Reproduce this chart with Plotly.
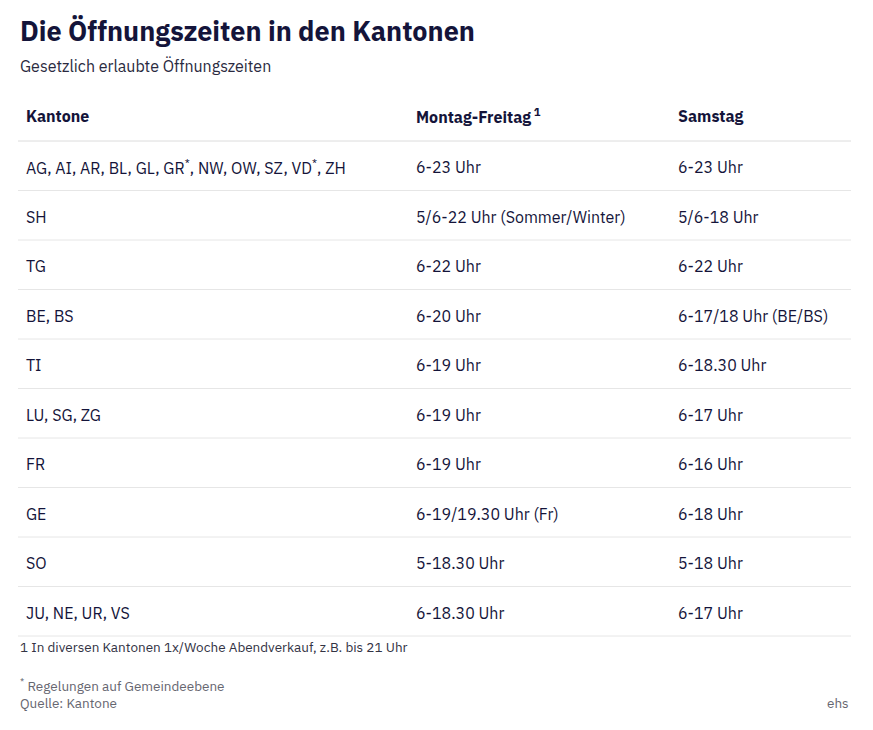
import plotly.graph_objects as go

title = "Die Öffnungszeiten in den Kantonen"
subtitle = "Gesetzlich erlaubte Öffnungszeiten"
headers = ["Kantone", "Montag-Freitag<sup> 1</sup>", "Samstag"]
kantone = ["AG, AI, AR, BL, GL, GR<sup>*</sup>, NW, OW, SZ, VD<sup>*</sup>, ZH", "SH", "TG", "BE, BS", "TI",
           "LU, SG, ZG", "FR", "GE", "SO", "JU, NE, UR, VS"]
mofr = ["6-23 Uhr", "5/6-22 Uhr (Sommer/Winter)", "6-22 Uhr", "6-20 Uhr", "6-19 Uhr",
        "6-19 Uhr", "6-19 Uhr", "6-19/19.30 Uhr (Fr)", "5-18.30 Uhr", "6-18.30 Uhr"]
samstag = ["6-23 Uhr", "5/6-18 Uhr", "6-22 Uhr", "6-17/18 Uhr (BE/BS)", "6-18.30 Uhr",
           "6-17 Uhr", "6-16 Uhr", "6-18 Uhr", "5-18 Uhr", "6-17 Uhr"]
footnote = "1 In diversen Kantonen 1x/Woche Abendverkauf, z.B. bis 21 Uhr"
note2 = "<sup>*</sup> Regelungen auf Gemeindeebene"
source = "Quelle: Kantone"
credit = "ehs"

W, H = 857, 714
OFF = 8
FONT = "IBM Plex Sans, Noto Sans, sans-serif"
DARK = "#14143a"
col_x = [24, 414, 676]
row0, step = 167, 49.5

fig = go.Figure()
ann, shapes = [], []
def add(x, y, t, size=16, color=DARK, anchor="left", bold=False):
    ann.append(dict(x=x, y=y, text=f"<b>{t}</b>" if bold else t, showarrow=False, xanchor=anchor,
                    yanchor="middle", font=dict(family=FONT, size=size, color=color)))

add(18, 30, title, size=27, bold=True)
add(18, 66, subtitle, size=16, color="#2a2a40")
for x, h in zip(col_x, headers):
    add(x, 116, h, bold=True)
shapes.append(dict(type="line", x0=18, x1=851, y0=141, y1=141, line=dict(color="#dcdcdc", width=1)))
for i, row in enumerate(zip(kantone, mofr, samstag)):
    y = row0 + i * step
    for x, t in zip(col_x, row):
        add(x, y, t)
    yl = 141 + (i + 1) * step
    shapes.append(dict(type="line", x0=18, x1=851, y0=yl, y1=yl, line=dict(color="#e6e6e6", width=1)))
add(18, 647, footnote, size=13.5, color="#333344")
add(18, 685, note2, size=13.5, color="#666670")
add(18, 703, source, size=13.5, color="#666670")
add(851, 703, credit, size=13.5, color="#666670", anchor="right")

fig.update_layout(width=W, height=H, margin=dict(l=0, r=0, t=0, b=0),
                  paper_bgcolor="white", plot_bgcolor="white",
                  xaxis=dict(range=[OFF, OFF + W], visible=False, fixedrange=True),
                  yaxis=dict(range=[OFF + H, OFF], visible=False, fixedrange=True),
                  annotations=ann, shapes=shapes, showlegend=False)
fig.write_html("out.html")
